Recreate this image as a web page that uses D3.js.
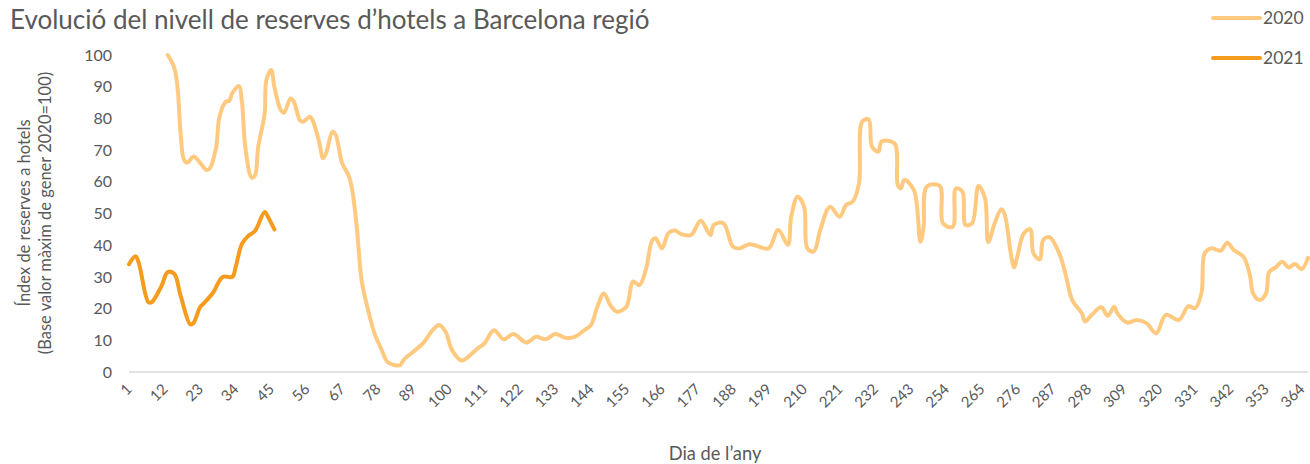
<!DOCTYPE html>
<html>
<head>
<meta charset="utf-8">
<script src="https://cdn.jsdelivr.net/npm/d3@7"></script>
<style>
  body { margin: 0; background: #fff; overflow: hidden; }
  svg { display: block; font-family: Lato, "Open Sans", sans-serif; }
</style>
</head>
<body>
<div id="chart"></div>
<script>
// values (day of year, index)
const days2020 = [13,15,16,17,18,19,21,23,25,26,28,29,31,32,33,35,36,37,39,40,41,43,43.5,45,46,48,49,51,52,54,55,57,58,60,61,62,64,65,67,69,70,71.5,73,75,77,79,81,83,85,86,89,92,95,97,99,101,104,106,109,111,114,117,120,124,127,130,133,136,139,142,144,146,148,150,152,155,157,159,161,163,164,166,168,170,172,175,178,181,182,185,188,190,193,195,199,202,205,206,208,210,211,213,215,218,221,223,225,227,228,230,231,233,234,238,239,240,241,244,246,247,248,252,253,256,257,259,260,262,264,266,267,269,271,272,274,275,276,278,280,281,283,284,286,289,291,293,296,297,299,302,304,306,307,310,313,316,319,322,326,329,331,333,334,336,339,341,343,346,348,349,351,353,354,356,358,360,362,364,366];
const vals2020 = [100,96,90,75,67,66,68,66,63.7,64.2,71,80.5,85.3,85.5,88,90.2,84.8,71,61.3,62,71,81.6,92,95.3,90,82.6,81.8,86.3,85.3,79.3,79,80.5,79,72,67.4,69,75.8,74.8,65.8,62,58,46,29,19.6,12.2,7.5,3.2,2.2,2.2,3.8,6.4,9,13.2,14.8,12.7,6.9,3.6,4.8,7.5,9,13.2,10.3,12,9.3,11.1,10.3,12,10.8,11.1,13.2,14.8,20.6,24.8,21.1,19,20.6,28.5,27.4,32.2,41.6,42.2,39,43.8,44.6,43.5,43.2,47.7,43.2,46.4,46.9,39.5,39,40.3,39.9,39,44.8,40.1,49,55.3,52.1,39,38,44.8,52.1,49,52.7,53.7,59.5,79,79.7,71.1,69.5,72.7,72.1,59,57.9,60.6,57.4,41.1,45.8,58.5,58.7,46.9,45.8,57.9,56.9,46.4,46.9,58.7,54.8,41,46.9,51.3,50,37.4,33,36.4,43.7,45,37.4,35.5,41.6,42.5,37.4,30.6,22.7,18.5,15.9,18,20.4,17.7,20.6,18.5,15.6,16.4,15.4,12.2,18,16.4,20.8,20.1,24.8,37.4,39,38.3,40.8,38.5,36.4,30.6,24.8,22.7,24.8,31.6,33,34.8,33,34.1,32.4,36,41];

const days2021 = [1,3,4,7,8,11,13,15,17,20,21,23,24,27,30,33,34,36,38,40,43,44,46];
const vals2021 = [34,36.5,34.5,22,22,27,31.5,31,24,15,15.5,20.5,21.5,25,30,30,33,40.5,43,44.5,50.5,49,45];

const xTicks = d3.range(1, 365, 11);
const yTicks = d3.range(0, 101, 10);

const title = "Evolució del nivell de reserves d’hotels a Barcelona regió";
const yTitle = ["Índex de reserves a hotels", "(Base valor màxim de gener 2020=100)"];
const xTitle = "Dia de l’any";
const seriesNames = ["2020", "2021"];
const seriesColors = ["#ffca80", "#f59b1d"];

const width = 1310, height = 464;
const margin = {top: 55, right: 2, bottom: 92, left: 129};

const svg = d3.select("#chart").append("svg")
    .attr("width", width)
    .attr("height", height);

const x = d3.scaleLinear().domain([1, 366]).range([margin.left, width - margin.right]);
const y = d3.scaleLinear().domain([0, 100]).range([height - margin.bottom, margin.top]);

// title
svg.append("text")
    .attr("x", 10).attr("y", 29)
    .attr("fill", "#595959")
    .attr("font-size", 26)
    .text(title);

// x axis line
svg.append("line")
    .attr("x1", x(1)).attr("x2", x(366))
    .attr("y1", y(0)).attr("y2", y(0))
    .attr("stroke", "#d9d9d9").attr("stroke-width", 1.3);

// y tick labels
svg.append("g")
    .selectAll("text")
    .data(yTicks)
    .join("text")
    .attr("x", 112)
    .attr("y", d => y(d))
    .attr("dy", "0.35em")
    .attr("text-anchor", "end")
    .attr("fill", "#595959")
    .attr("font-size", 16)
    .text(d => d);

// x tick labels, rotated
svg.append("g")
    .selectAll("text")
    .data(xTicks)
    .join("text")
    .attr("transform", d => `translate(${x(d) + 4},${y(0) + 18}) rotate(-45)`)
    .attr("text-anchor", "end")
    .attr("fill", "#595959")
    .attr("font-size", 15)
    .text(d => d);

// axis titles
svg.append("g")
    .selectAll("text")
    .data(yTitle)
    .join("text")
    .attr("transform", (d, i) => `translate(${30 + i * 21},213) rotate(-90)`)
    .attr("text-anchor", "middle")
    .attr("fill", "#595959")
    .attr("font-size", 16.5)
    .text(d => d);

svg.append("text")
    .attr("x", 715).attr("y", 460)
    .attr("text-anchor", "middle")
    .attr("fill", "#595959")
    .attr("font-size", 18.3)
    .text(xTitle);

// lines
const line = d3.line()
    .x(d => x(d[0]))
    .y(d => y(d[1]))
    .curve(d3.curveCatmullRom.alpha(0.5));

const data2020 = days2020.map((d, i) => [d, vals2020[i]]);
const data2021 = days2021.map((d, i) => [d, vals2021[i]]);

[data2020, data2021].forEach((data, i) => {
  svg.append("path")
      .datum(data)
      .attr("fill", "none")
      .attr("stroke", seriesColors[i])
      .attr("stroke-width", 4)
      .attr("stroke-linejoin", "round")
      .attr("stroke-linecap", "round")
      .attr("d", line);
});

// legend
const legend = svg.append("g")
    .selectAll("g")
    .data(seriesNames)
    .join("g")
    .attr("transform", (d, i) => `translate(1213,${18 + i * 40})`);

legend.append("line")
    .attr("x1", 0).attr("x2", 47)
    .attr("stroke", (d, i) => seriesColors[i])
    .attr("stroke-width", 4)
    .attr("stroke-linecap", "round");

legend.append("text")
    .attr("x", 50)
    .attr("dy", "0.35em")
    .attr("fill", "#595959")
    .attr("font-size", 17.5)
    .text(d => d);
</script>
</body>
</html>
